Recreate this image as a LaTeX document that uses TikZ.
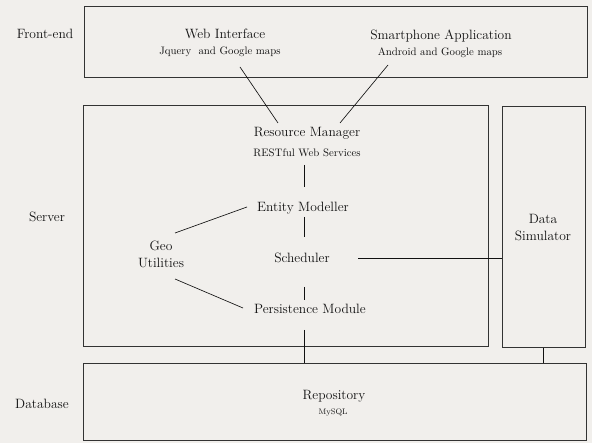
\documentclass[tikz,border=0pt]{standalone}
\usepackage{xcolor}
\definecolor{paper}{HTML}{F1EFEC}
\definecolor{ink}{HTML}{111111}
\definecolor{rule}{HTML}{333333}
\begin{document}
\begin{tikzpicture}[x=1pt,y=-1pt,
  box/.style={draw=rule,line width=1pt,inner sep=0pt},
  ttl/.style={text=ink,inner sep=0pt,font=\fontsize{13.5}{17}\selectfont,align=center},
  sub/.style={text=ink,inner sep=0pt,font=\fontsize{10.8}{13}\selectfont},
  tiny/.style={text=ink,inner sep=0pt,font=\fontsize{8}{10}\selectfont},
  conn/.style={draw=ink,line width=0.65pt}]
\fill[paper] (0,0) rectangle (592,443);
\useasboundingbox (0,0) rectangle (592,443);
% boxes
\node[box,minimum width=503pt,minimum height=71pt] (fe) at (335.5,42.5) {};
\node[box,minimum width=405pt,minimum height=241pt] (srv) at (285.5,226.5) {};
\node[box,minimum width=83pt,minimum height=241pt] (ds) at (543.5,227.5) {};
\node[box,minimum width=503pt,minimum height=77pt] (db) at (334.5,402.5) {};
% side labels
\node[ttl] (lfe) at (45,34) {Front-end};
\node[ttl] (lsrv) at (47,217) {Server};
\node[ttl] (ldb) at (42,404) {Database};
% texts
\node[ttl] (wi) at (225,34) {Web Interface};
\node[sub] (wis) at (220,52) {Jquery\ \ and Google maps};
\node[ttl] (sa) at (441,36) {Smartphone Application};
\node[sub] (sas) at (440,53) {Android and Google maps};
\node[ttl] (rm) at (307,133) {Resource Manager};
\node[sub] (rms) at (307,153) {RESTful Web Services};
\node[ttl] (em) at (303,208) {Entity Modeller};
\node[ttl] (sch) at (302,258) {Scheduler};
\node[ttl] (pm) at (310,309) {Persistence Module};
\node[ttl] (geo) at (161,254) {Geo\\Utilities};
\node[ttl] (dsl) at (543,228) {Data\\Simulator};
\node[ttl] (repo) at (334,396) {Repository};
\node[tiny] (repos) at (333,413) {MySQL};
% connectors
\draw[conn] ([shift={(20,15)}]wis.center) -- ([shift={(-29,-10)}]rm.center);
\draw[conn] ([shift={(-52,12)}]sas.center) -- ([shift={(33,-10)}]rm.center);
\draw[conn] ([shift={(-3,12)}]rms.center) -- ([shift={(1,-21)}]em.center);
\draw[conn] ([shift={(1,9)}]em.center) -- ([shift={(2,-21)}]sch.center);
\draw[conn] ([shift={(2,29)}]sch.center) -- ([shift={(-6,-9)}]pm.center);
\draw[conn] ([shift={(-6,21)}]pm.center) -- ([shift={(-6,0)}]pm.center |- db.north);
\draw[conn] ([shift={(14,-21)}]geo.center) -- ([shift={(-56,-1)}]em.center);
\draw[conn] ([shift={(14,25)}]geo.center) -- ([shift={(-67,-1)}]pm.center);
\draw[conn] ([shift={(56,0)}]sch.center) -- (sch.center -| ds.west);
\draw[conn] (ds.south) -- (ds.south |- db.north);
\end{tikzpicture}
\end{document}
